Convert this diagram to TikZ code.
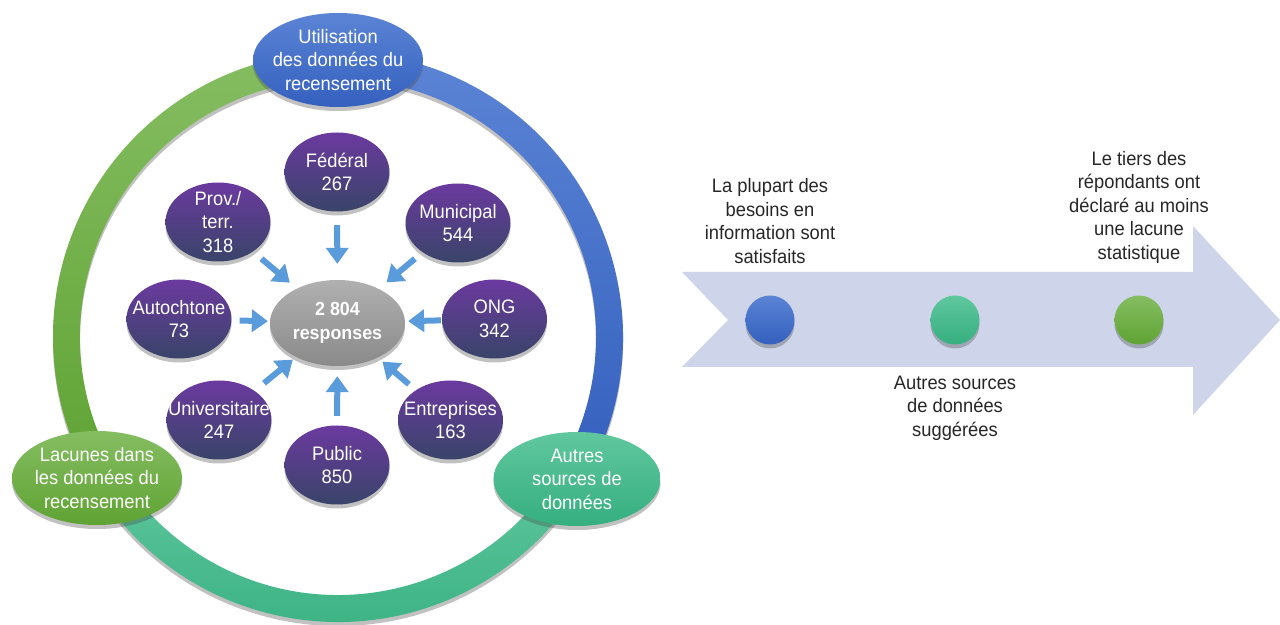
\documentclass[tikz,border=0pt]{standalone}
\usepackage{fontspec}
\setmainfont{Liberation Sans}[FakeStretch=0.94]
\usepackage{tikz}
\usetikzlibrary{shapes.geometric}
\usetikzlibrary{calc}
\usetikzlibrary{shadows}
\usetikzlibrary{arrows.meta}
\usepackage{xcolor}

\definecolor{purpleTop}{HTML}{6B3A9F}
\definecolor{purpleBot}{HTML}{394469}
\definecolor{grayTop}{HTML}{B0B0B0}
\definecolor{grayBot}{HTML}{8A8A8A}
\definecolor{blueTop}{HTML}{5B84D5}
\definecolor{blueBot}{HTML}{3460BE}
\definecolor{greenTop}{HTML}{85BD62}
\definecolor{greenBot}{HTML}{5FA333}
\definecolor{tealTop}{HTML}{60C79E}
\definecolor{tealBot}{HTML}{35AF7F}
\definecolor{arrowBlue}{HTML}{5A9BDC}
\definecolor{bandFill}{HTML}{CED5EA}
\definecolor{textDark}{HTML}{262626}

\begin{document}
\begin{tikzpicture}[x=1pt, y=1pt]
        % ================= styles =================
        \tikzset{
            % soft shadow under every coloured shape
            softshadow/.style={drop shadow={shadow xshift=0pt, shadow yshift=-4pt, opacity=0.35, fill=black!70}},
            % ellipses sitting on the ring
            bignode/.style={ellipse, minimum width=170pt, minimum height=94pt, inner xsep=-12pt, inner ysep=-10pt,
                            text=white, align=center, font=\fontsize{19.5}{23.5}\selectfont, softshadow},
            % purple respondent groups
            pnode/.style={ellipse, minimum width=105pt, minimum height=79pt, inner xsep=-20pt, inner ysep=-10pt,
                          top color=purpleTop, bottom color=purpleBot, text=white, align=center,
                          font=\fontsize{19.5}{23.5}\selectfont, softshadow},
            % grey total in the middle
            cnode/.style={ellipse, minimum width=135pt, minimum height=86pt, inner xsep=-15pt, inner ysep=-10pt,
                          top color=grayTop, bottom color=grayBot, text=white, align=center,
                          font=\bfseries\fontsize{19}{23.5}\selectfont, softshadow},
            % short block arrows
            arr/.style={line width=6pt, arrowBlue, -{Triangle[width=22pt, length=16pt]}},
            % dots on the timeline arrow
            dot/.style={circle, minimum size=49pt, inner sep=0pt, softshadow},
            % texts beside the timeline
            note/.style={align=center, text=textDark, font=\fontsize{19.5}{23.5}\selectfont}
        }

        \useasboundingbox (0,0) rectangle (1280,624);

        % ================= 1. left: ring with three stages =================
        \coordinate (rc) at (338,287);
        \foreach \a/\b/\ct/\cb in {90/210/greenTop/greenBot, 210/330/tealTop/tealBot, -30/90/blueTop/blueBot}
            \shade[top color=\ct, bottom color=\cb, softshadow]
                ($(rc)+(\a:285)$) arc[start angle=\a, end angle=\b, radius=285]
                -- ($(rc)+(\b:258)$) arc[start angle=\b, end angle=\a, radius=258] -- cycle;

        \node[bignode, top color=blueTop, bottom color=blueBot] (util) at (338,564) {Utilisation\\des données du\\recensement};
        \node[bignode, top color=greenTop, bottom color=greenBot] (lac) at (97,146) {Lacunes dans\\les données du\\recensement};
        \node[bignode, top color=tealTop, bottom color=tealBot, minimum width=167pt] (autres) at (577,145) {Autres\\sources de\\données};

        % respondent groups round the total
        \node[cnode] (ctr) at (337.5,301) {2 804\\responses};
        \foreach \n/\x/\y/\t in {fed/337/452/{Fédéral\\267}, prov/218/402/{Prov./\\terr.\\318},
                                 mun/458/401/{Municipal\\544}, autoch/179/305/{Autochtone\\73},
                                 ong/494.5/305/{ONG\\342}, univ/219/204/{Universitaire\\247},
                                 entr/450.5/204/{Entreprises\\163}, pub/337/159/{Public\\850}}
            \node[pnode] (\n) at (\x,\y) {\t};

        % arrows towards the total
        \foreach \n/\s/\e in {fed/13.5pt/16pt, prov/11pt/9pt, mun/10pt/10pt, autoch/8pt/2pt,
                              ong/1pt/3pt, univ/12pt/4pt, entr/9pt/6pt, pub/9.5pt/10pt}
            \draw[arr, shorten <=\s, shorten >=\e] (\n) -- (ctr);

        % ================= 2. right: timeline arrow =================
        \fill[bandFill] (682,352) -- (1193,352) -- (1193,398) -- (1280,304) -- (1193,209)
                        -- (1193,257) -- (682,257) -- (728,304) -- cycle;

        \node[dot, top color=blueTop, bottom color=blueBot] (d1) at (770,304) {};
        \node[dot, top color=tealTop, bottom color=tealBot] (d2) at (955,304) {};
        \node[dot, top color=greenTop, bottom color=greenBot] (d3) at (1139,304) {};

        \node[note] (t1) at (770,403) {La plupart des\\besoins en\\information sont\\satisfaits};
        \node[note] (t2) at (955,216) {Autres sources\\de données\\suggérées};
        \node[note] (t3) at (1139,417) {Le tiers des\\répondants ont\\déclaré au moins\\une lacune\\statistique};

\end{tikzpicture}
\end{document}
